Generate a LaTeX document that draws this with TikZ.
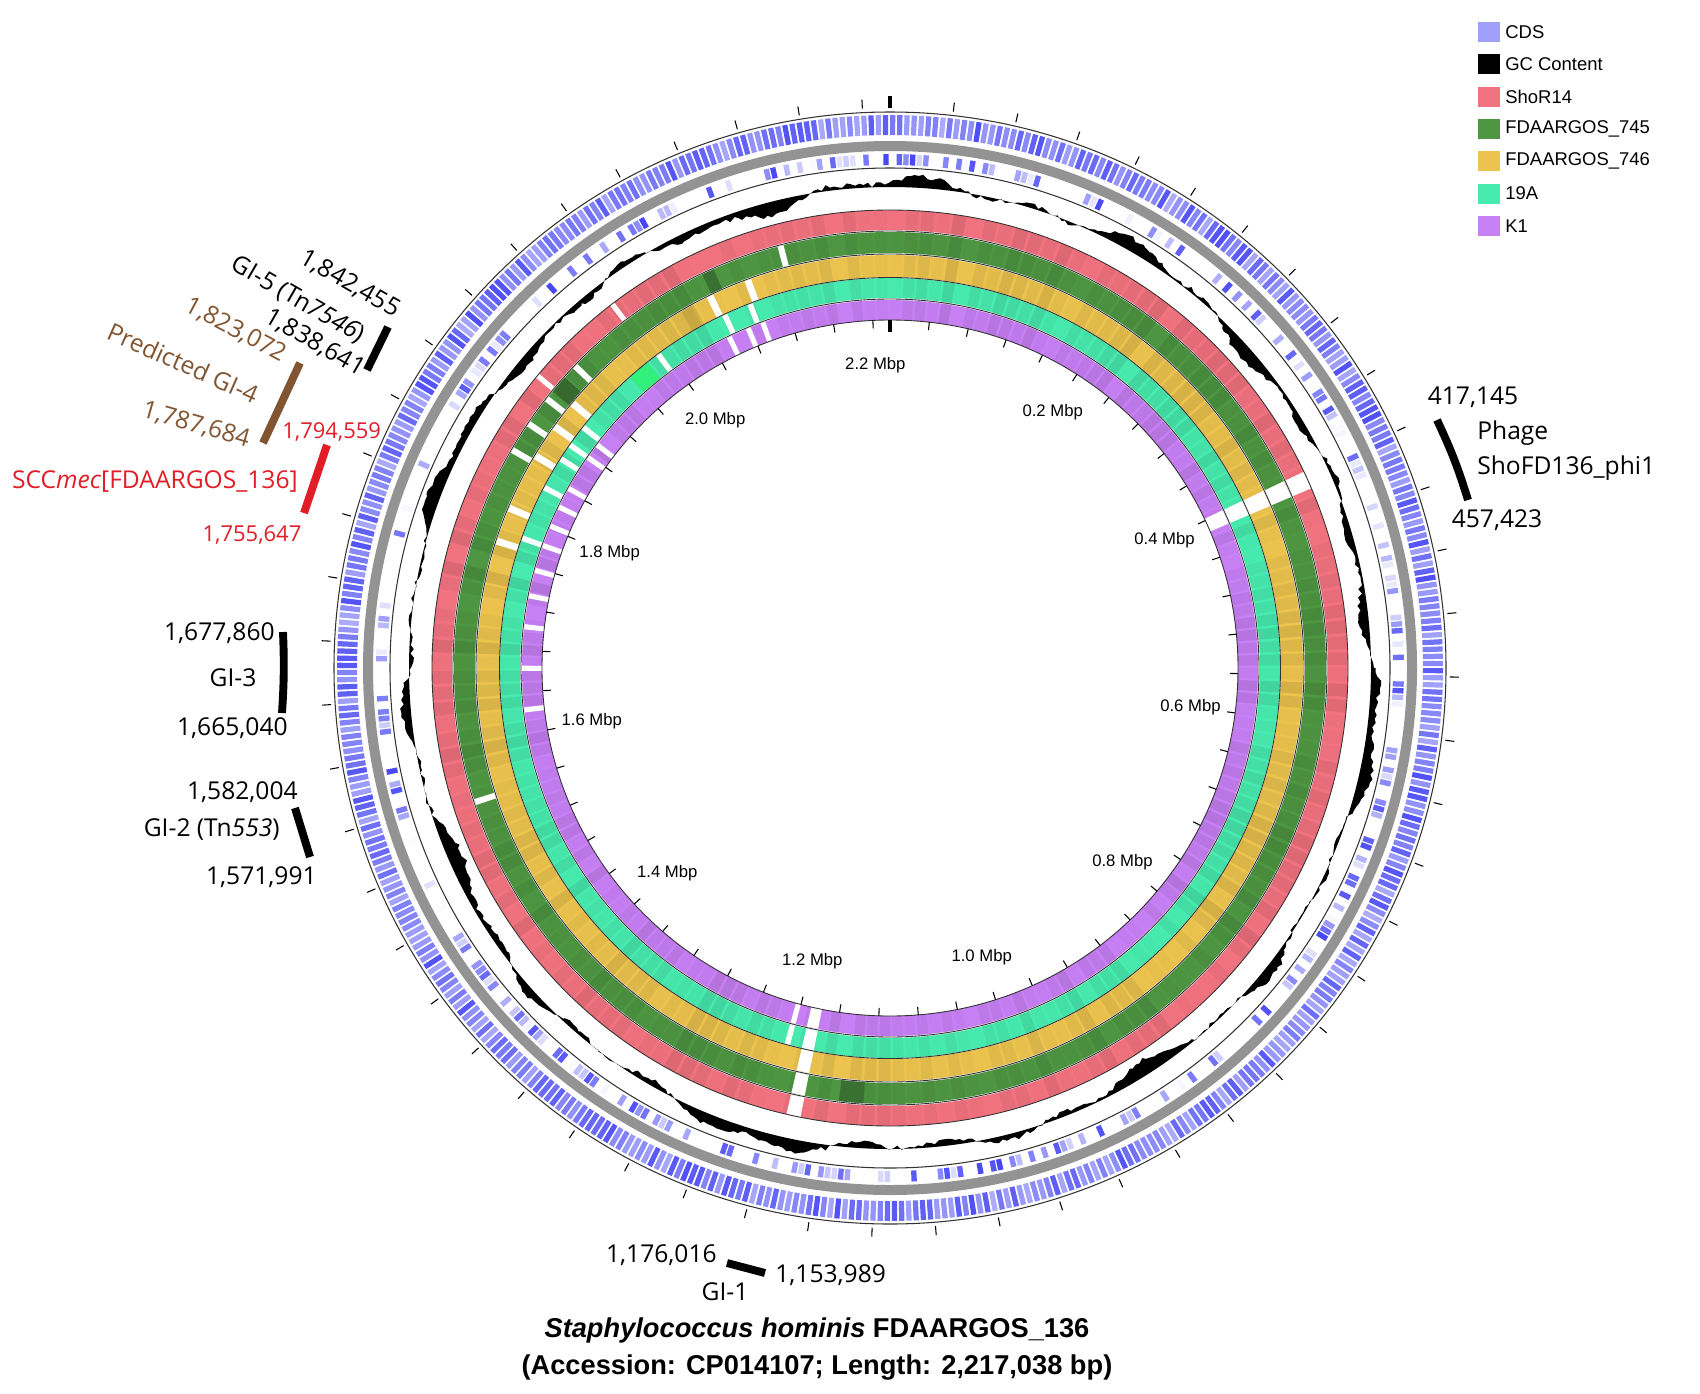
\documentclass[tikz,border=0pt]{standalone}
\usepackage{fontspec}
\setmainfont{Liberation Sans}
\newfontfamily\annf{Open Sans}
\definecolor{cdsc}{RGB}{70,70,245}
\definecolor{legcds}{RGB}{160,160,250}
\definecolor{cR}{RGB}{242,115,128}
\definecolor{cG}{RGB}{78,150,66}
\definecolor{cY}{RGB}{235,195,78}
\definecolor{cC}{RGB}{72,235,175}
\definecolor{cP}{RGB}{200,128,245}
\definecolor{brownann}{RGB}{130,85,50}
\definecolor{redann}{RGB}{225,30,40}
\newcommand\ann[4]{({#1}:{#3}) arc[start angle={#1},end angle={#2},radius={#3}] -- ({#2}:{#4}) arc[start angle={#2},end angle={#1},radius={#4}] -- cycle}
\newcommand\gapw[4]{\fill[white] \ann{-90+(#1)*162.3783}{-90+(#1+#2)*162.3783}{#3}{#4};}
\tikzset{
  bar/.style={line width=4.5pt},
  lbl/.style={font=\annf\fontsize{14}{16}\selectfont, inner sep=0pt},
  rlbl/.style={font=\annf\fontsize{12.5}{14}\selectfont, inner sep=0pt, text=redann},
  mlbl/.style={font=\fontsize{9.5}{11}\selectfont, inner sep=0pt},
  legbox/.style={minimum width=22*0.02cm, minimum height=20*0.02cm, inner sep=0pt},
  legtxt/.style={font=\fontsize{10.5}{12}\selectfont, anchor=west, inner sep=0pt},
  ringline/.style={line width=0.6pt, black!80}
}
\begin{document}
\begin{tikzpicture}[x=0.02cm,y=-0.02cm]
\useasboundingbox (0,0) rectangle (1700,1393);
\pgfmathsetseed{7}
\begin{scope}[shift={(890,668)}]
% CDS bands
\foreach \i in {0,...,479}{
  \pgfmathsetmacro\a{\i*0.75}
  \pgfmathsetmacro\o{0.45+0.5*rnd}
  \fill[cdsc, opacity=\o] \ann{\a}{\a+0.55}{553}{533};
  \pgfmathsetmacro\q{max(0,2.2*rnd-1.2)}
  \fill[cdsc, opacity=\q] \ann{\a}{\a+0.6}{514}{503};
}
\fill[gray!85, even odd rule] (0,0) circle[radius=527] (0,0) circle[radius=517];
\draw[ringline] (0,0) circle[radius=556];
\draw[ringline] (0,0) circle[radius=500];
% GC content
\fill[black, even odd rule] plot[domain=0:360, samples=720] (\x:{481+5*sin(4*\x+20)+6*sin(11*\x)+4*sin(29*\x+50)+5*(rnd-0.5)}) -- cycle (0,0) circle[radius=481];
% comparison rings
\fill[cR, even odd rule] (0,0) circle[radius=458] (0,0) circle[radius=438];
\fill[cG, even odd rule] (0,0) circle[radius=436] (0,0) circle[radius=415];
\fill[cY, even odd rule] (0,0) circle[radius=413] (0,0) circle[radius=391];
\fill[cC, even odd rule] (0,0) circle[radius=390] (0,0) circle[radius=370];
\fill[cP, even odd rule] (0,0) circle[radius=368] (0,0) circle[radius=348];
% shading stripes
\foreach \i in {0,...,179}{
  \pgfmathsetmacro\a{\i*2}
  \pgfmathsetmacro\o{0.1*rnd}
  \fill[black, opacity=\o] \ann{\a}{\a+1.6}{458}{348};
}
\fill[black!30!cG] \ann{-90+1.905*162.3783}{-90+1.92*162.3783}{436}{415};
\fill[black!25!cG] \ann{-90+2.06*162.3783}{-90+2.07*162.3783}{436}{415};
\fill[black!25!cG] \ann{-90+1.13*162.3783}{-90+1.15*162.3783}{436}{415};
\fill[black!15!cY] \ann{-90+2.03*162.3783}{-90+2.04*162.3783}{413}{391};
\fill[green!30!cC] \ann{-90+1.96*162.3783}{-90+1.98*162.3783}{390}{370};
% gaps
\foreach \r in {{458/438},{436/415},{413/391},{390/370},{368/348}}{
  \foreach \ro/\ri in \r {\gapw{0.398}{0.014}{\ro}{\ri}\gapw{1.178}{0.011}{\ro}{\ri}}
}
\foreach \m in {1.905,1.985}{\gapw{\m}{0.004}{458}{438}}
\foreach \m in {1.845,1.87,1.895,1.93,2.125,1.55}{\gapw{\m}{0.005}{436}{415}}
\foreach \m in {1.77,1.80,1.85,1.88,1.905,2.055,2.09}{\gapw{\m}{0.006}{413}{391}}
\foreach \m in {1.2,1.78,1.83,1.86,1.875,1.895,1.99,2.06,2.085}{\gapw{\m}{0.005}{390}{370}}
\foreach \m in {1.2,1.62,1.66,1.70,1.73,1.755,1.78,1.80,1.82,1.84,1.875,1.89,2.055,2.075,2.09}{\gapw{\m}{0.005}{368}{348}}
\foreach \r in {458,437,414,390.5,369,348}{\draw[ringline, line width=0.5pt] (0,0) circle[radius=\r];}
% ticks
\foreach \m in {0,0.04,...,2.2}{
  \draw[line width=0.6pt] ({-90+\m*162.3783}:560) -- ({-90+\m*162.3783}:569);
  \draw[line width=0.6pt] ({-90+\m*162.3783}:348) -- ({-90+\m*162.3783}:340);
}
\draw[line width=2pt] (-90:560) -- (-90:572);
\draw[line width=2pt] (-90:348) -- (-90:336);
\foreach \m in {0.2,0.4,0.6,0.8,1.0,1.2,1.4,1.6,1.8,2.0,2.2}{
  \node[mlbl] (m\m) at ({-90+\m*162.3783}:303) {\m\ Mbp};
}
\end{scope}
% annotations
\coordinate (g5a) at (388,327); \coordinate (g5b) at (367,370);
\draw[bar] (g5a) -- (g5b);
\node[lbl, rotate=-30] (t5a) at (350,284) {1,842,455};
\node[lbl, rotate=-30] (t5b) at (298,300) {GI-5 (Tn\textit{7546})};
\node[lbl, rotate=-30] (t5c) at (315,343) {1,838,641};
\coordinate (g4a) at (300,363); \coordinate (g4b) at (263,443);
\draw[bar, brownann] (g4a) -- (g4b);
\node[lbl, text=brownann, rotate=-28] (t4a) at (236,330) {1,823,072};
\node[lbl, text=brownann, rotate=-24] (t4b) at (183,363) {Predicted GI-4};
\node[lbl, text=brownann, rotate=-16] (t4c) at (196,425) {1,787,684};
\coordinate (sca) at (327,445); \coordinate (scb) at (304,513);
\draw[bar, redann] (sca) -- (scb);
\node[rlbl, anchor=west] (tsa) at (282,432) {1,794,559};
\node[lbl, text=redann, anchor=east] (tsb) at (298,482) {SCC\textit{mec}[FDAARGOS\_136]};
\node[rlbl] (tsc) at (252,535) {1,755,647};
\coordinate (g3a) at (283,632); \coordinate (g3b) at (282,713);
\draw[bar] (g3a) to[bend left=3] (g3b);
\node[lbl, anchor=east] (t3a) at (275,633) {1,677,860};
\node[lbl] (t3b) at (233,678) {GI-3};
\node[lbl, anchor=east] (t3c) at (288,728) {1,665,040};
\coordinate (g2a) at (295,808); \coordinate (g2b) at (310,857);
\draw[bar] (g2a) -- (g2b);
\node[lbl, anchor=east] (t2a) at (298,792) {1,582,004};
\node[lbl, anchor=east] (t2b) at (280,830) {GI-2 (Tn\textit{553})};
\node[lbl, anchor=east] (t2c) at (317,877) {1,571,991};
\coordinate (g1a) at (727,1263); \coordinate (g1b) at (765,1273);
\draw[bar] (g1a) -- (g1b);
\node[lbl, anchor=east] (t1a) at (717,1255) {1,176,016};
\node[lbl, anchor=west] (t1b) at (775,1275) {1,153,989};
\node[lbl] (t1c) at (725,1292) {GI-1};
\coordinate (pha) at (1437,420); \coordinate (phb) at (1468,500);
\draw[bar] (pha) to[bend left=4] (phb);
\node[lbl] (tpa) at (1473,397) {417,145};
\node[lbl, anchor=west] (tpb) at (1477,433) {Phage};
\node[lbl, anchor=west] (tpc) at (1477,468) {ShoFD136\_phi1};
\node[lbl] (tpd) at (1497,520) {457,423};
% title
\node[font=\bfseries\fontsize{15.5}{18}\selectfont, inner sep=0pt] (title1) at (817,1330) {\textit{Staphylococcus hominis} FDAARGOS\_136};
\node[font=\bfseries\fontsize{15.5}{18}\selectfont, inner sep=0pt] (title2) at (817,1367) {(Accession: CP014107; Length: 2,217,038 bp)};
% legend
\foreach \c/\t [count=\k from 0] in {legcds/CDS, black/GC Content, cR/ShoR14, cG/FDAARGOS\_745, cY/FDAARGOS\_746, cC/19A, cP/K1}{
  \node[legbox, fill=\c] (lb\k) at (1489,{32+32.3*\k}) {};
  \node[legtxt] (lt\k) at (1505,{32+32.3*\k}) {\t};
}
\end{tikzpicture}
\end{document}
